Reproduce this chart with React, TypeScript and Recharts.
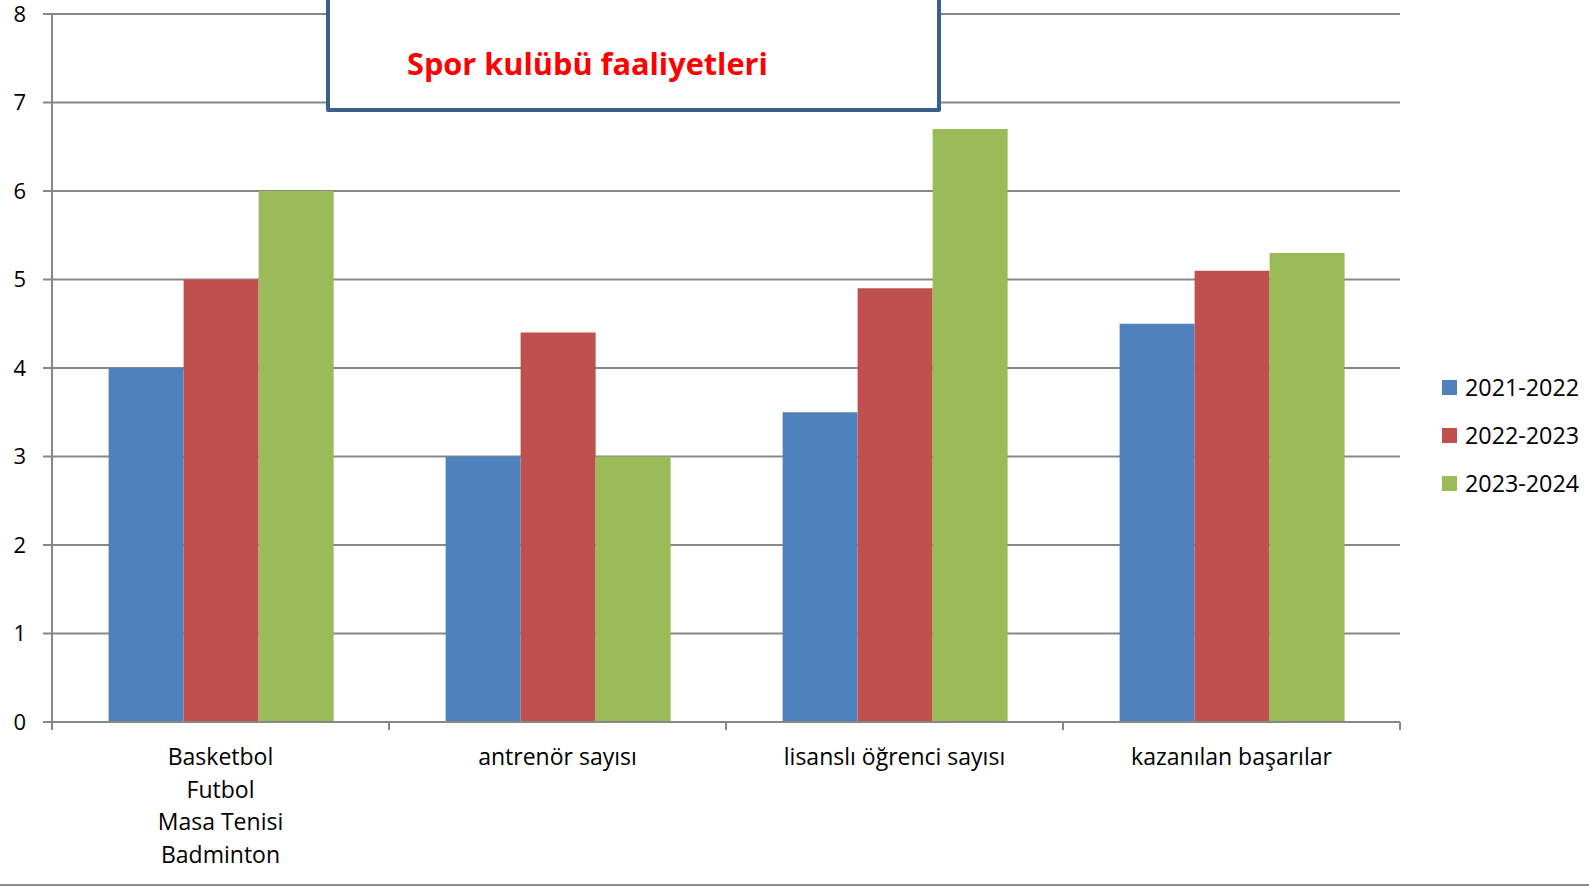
import { BarChart, Bar, XAxis, YAxis, CartesianGrid, Legend } from 'recharts'

const categories = [
  'Basketbol\nFutbol\nMasa Tenisi\nBadminton',
  'antrenör sayısı',
  'lisanslı öğrenci sayısı',
  'kazanılan başarılar',
]
const seriesNames = ['2021-2022', '2022-2023', '2023-2024']
const values2021 = [4, 3, 3.5, 4.5]
const values2022 = [5, 4.4, 4.9, 5.1]
const values2023 = [6, 3, 6.7, 5.3]
const yTicks = [0, 1, 2, 3, 4, 5, 6, 7, 8]
const colors = ['#4F81BD', '#C0504D', '#9BBB59']

const GRAY = '#878787'
const FONT = '"Open Sans", "Noto Sans", sans-serif'

const data = categories.map((name, i) => ({
  name,
  s1: values2021[i],
  s2: values2022[i],
  s3: values2023[i],
}))

function CategoryTick(props: any) {
  const { x, y, payload, index, visibleTicksCount, width } = props
  const half = payload?.offset ?? width / visibleTicksCount / 2
  const lines = String(payload.value).split('\n')
  return (
    <g>
      <line x1={x - half} x2={x - half} y1={y} y2={y + 8} stroke={GRAY} strokeWidth={2} />
      {index === visibleTicksCount - 1 && (
        <line x1={x + half} x2={x + half} y1={y} y2={y + 8} stroke={GRAY} strokeWidth={2} />
      )}
      <text x={x} y={y + 43} textAnchor="middle" fontSize={23} fill="#000" fontFamily={FONT}>
        {lines.map((l, i) => (
          <tspan key={i} x={x} dy={i === 0 ? 0 : 32.5}>
            {l}
          </tspan>
        ))}
      </text>
    </g>
  )
}

function LegendContent(props: any) {
  const items = props.payload || []
  return (
    <div style={{ width: 149, fontFamily: FONT }}>
      {items.map((it: any) => (
        <div key={it.value} style={{ display: 'flex', alignItems: 'center', height: 48 }}>
          <span style={{ width: 15, height: 15, background: it.color, display: 'inline-block', marginRight: 8 }} />
          <span style={{ fontSize: 23.3, color: '#000', whiteSpace: 'nowrap' }}>{it.value}</span>
        </div>
      ))}
    </div>
  )
}

export default function App() {
  return (
    <div style={{ position: 'absolute', left: 0, top: 0, width: 1589, height: 887, background: '#fff', overflow: 'hidden' }}>
      <BarChart
        width={1589}
        height={887}
        data={data}
        margin={{ top: 14, right: 40, left: 0, bottom: 0 }}
        barCategoryGap="16.8%"
        barGap={0}
        style={{ fontFamily: FONT }}
      >
        <CartesianGrid vertical={false} stroke={GRAY} strokeWidth={2} />
        <XAxis
          dataKey="name"
          height={165}
          axisLine={{ stroke: GRAY, strokeWidth: 2 }}
          tickLine={false}
          tickSize={0}
          tickMargin={0}
          tick={<CategoryTick />}
          interval={0}
        />
        <YAxis
          width={52}
          domain={[0, 8]}
          ticks={yTicks}
          interval={0}
          axisLine={{ stroke: GRAY, strokeWidth: 2 }}
          tickLine={{ stroke: GRAY, strokeWidth: 2 }}
          tickSize={9}
          tickMargin={17}
          tick={{ fill: '#000', fontSize: 22, fontFamily: FONT }}
        />
        <Legend
          layout="vertical"
          align="right"
          verticalAlign="middle"
          content={<LegendContent />}
          wrapperStyle={{ width: 149, left: 1442, top: 363, right: 'auto' }}
        />
        <Bar dataKey="s1" name={seriesNames[0]} fill={colors[0]} isAnimationActive={false} />
        <Bar dataKey="s2" name={seriesNames[1]} fill={colors[1]} isAnimationActive={false} />
        <Bar dataKey="s3" name={seriesNames[2]} fill={colors[2]} isAnimationActive={false} />
      </BarChart>
      <div
        style={{
          position: 'absolute',
          left: 326,
          top: -10,
          width: 615,
          height: 122,
          boxSizing: 'border-box',
          border: '4px solid #3A5F8B',
          borderRadius: 2,
          background: '#fff',
        }}
      />
      <div
        style={{
          position: 'absolute',
          left: 407,
          top: 43,
          lineHeight: '40px',
          fontSize: 30.7,
          fontWeight: 700,
          color: '#FF0000',
          fontFamily: FONT,
          whiteSpace: 'nowrap',
        }}
      >
        Spor kulübü faaliyetleri
      </div>
      <div style={{ position: 'absolute', left: 0, top: 884, width: 1589, height: 2, background: '#8c8c8c' }} />
    </div>
  )
}
